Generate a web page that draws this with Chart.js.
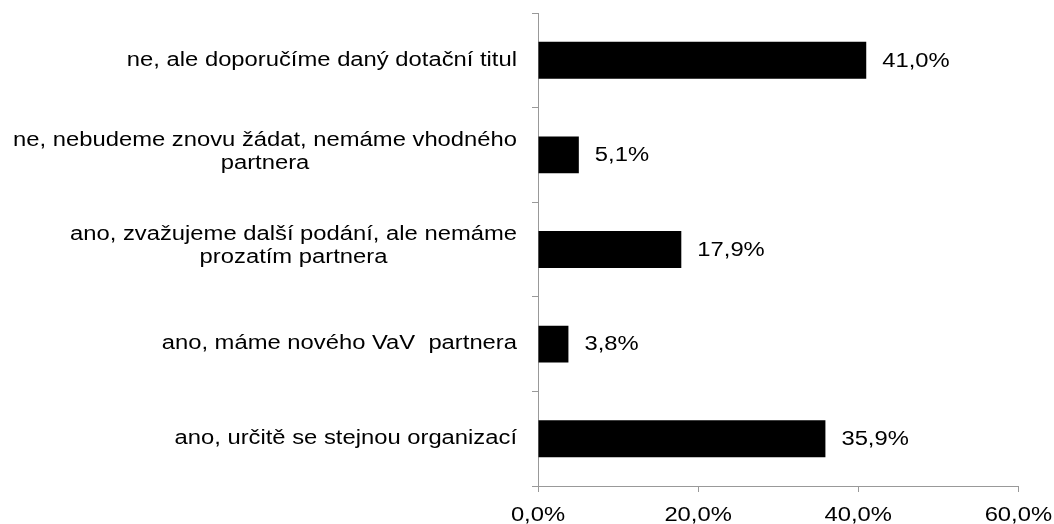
<!DOCTYPE html>
<html>
<head>
<meta charset="utf-8">
<script src="https://cdn.jsdelivr.net/npm/chart.js@4/dist/chart.umd.min.js"></script>
<style>
  html, body { margin: 0; padding: 0; background: #fff; overflow: hidden; }
  #wrap { position: relative; width: 1054px; height: 524px; overflow: hidden; }
  #box { position: absolute; left: 0; top: 0; width: 1054px; height: 540px; }
</style>
</head>
<body>
<div id="wrap"><div id="box"><canvas id="c" width="1054" height="540"></canvas></div></div>
<script>
const categories = [
  ["ne, ale doporučíme daný dotační titul"],
  ["ne, nebudeme znovu žádat, nemáme vhodného", "partnera"],
  ["ano, zvažujeme další podání, ale nemáme", "prozatím partnera"],
  ["ano, máme nového VaV  partnera"],
  ["ano, určitě se stejnou organizací"]
];
const values = [41.0, 5.1, 17.9, 3.8, 35.9];
const xTicks = [0, 20, 40, 60];

const FONT = '"Liberation Sans", Arial, sans-serif';
const FSIZE = 19.5;
const SX = 1.22; // horizontal stretch of the reference text
const fmt = v => v.toFixed(1).replace('.', ',') + '%';

function text(ctx, t, x, y, align, baseline) {
  ctx.save();
  ctx.translate(x, y);
  ctx.scale(SX, 1);
  ctx.textAlign = align;
  ctx.textBaseline = baseline;
  ctx.fillText(t, 0, 0);
  ctx.restore();
}

const labelPlugin = {
  id: 'customLabels',
  afterDraw(chart) {
    const ctx = chart.ctx;
    const y = chart.scales.y;
    const x = chart.scales.x;
    const meta = chart.getDatasetMeta(0);
    ctx.save();
    ctx.font = FSIZE + 'px ' + FONT;
    ctx.fillStyle = '#000';
    // category labels: right-aligned block, centered lines
    const rightEdge = 517;
    const lh = 23;
    categories.forEach((lines, i) => {
      const cy = y.getPixelForValue(i) - (lines.length > 1 ? 3 : 0);
      const w = Math.max(...lines.map(l => ctx.measureText(l).width)) * SX;
      const cx = rightEdge - w / 2;
      lines.forEach((l, k) => {
        text(ctx, l, cx, cy + (k - (lines.length - 1) / 2) * lh, 'center', 'middle');
      });
    });
    // value labels
    meta.data.forEach((bar, i) => {
      text(ctx, fmt(values[i]), bar.x + 16, bar.y + 1, 'left', 'middle');
    });
    // x tick labels
    xTicks.forEach(v => {
      text(ctx, fmt(v), x.getPixelForValue(v), 521, 'center', 'alphabetic');
    });
    ctx.restore();
  }
};

new Chart(document.getElementById('c'), {
  type: 'bar',
  data: {
    labels: categories.map(c => c.join(' ')),
    datasets: [{
      data: values,
      backgroundColor: '#000',
      borderWidth: 0,
      barPercentage: 0.78,
      categoryPercentage: 0.5
    }]
  },
  options: {
    indexAxis: 'y',
    responsive: false,
    animation: false,
    devicePixelRatio: 1,
    layout: { padding: { left: 0, right: 35, top: 13, bottom: 0 } },
    plugins: { legend: { display: false }, tooltip: { enabled: false } },
    scales: {
      x: {
        min: 0, max: 60,
        afterBuildTicks(scale) { scale.ticks = xTicks.map(v => ({ value: v })); },
        afterFit(scale) { scale.height = 54; },
        ticks: {
          callback: v => fmt(v),
          color: 'rgba(0,0,0,0)',
          font: { family: FONT, size: FSIZE },
          padding: 8,
          maxRotation: 0
        },
        grid: { drawOnChartArea: false, drawTicks: true, tickLength: 6, color: '#999' },
        border: { display: true, color: '#999', width: 1 }
      },
      y: {
        afterFit(scale) { scale.width = 538; },
        ticks: { display: false },
        grid: { drawOnChartArea: false, drawTicks: true, tickLength: 6, color: '#999', offset: true },
        border: { display: true, color: '#999', width: 1 }
      }
    }
  },
  plugins: [labelPlugin]
});
</script>
</body>
</html>
